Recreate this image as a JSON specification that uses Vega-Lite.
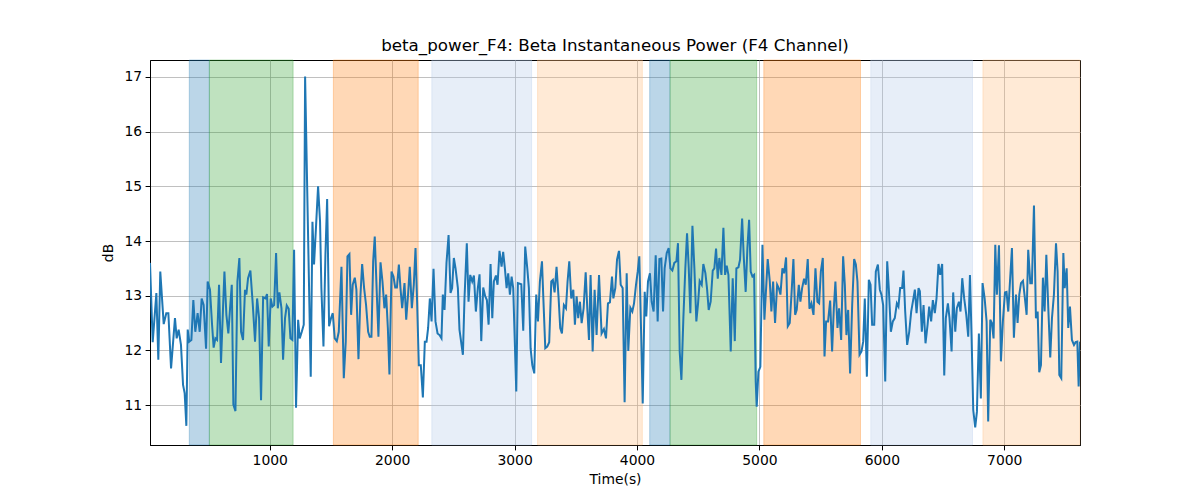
{
  "$schema": "https://vega.github.io/schema/vega-lite/v6.json",
  "width": 930,
  "height": 385,
  "autosize": {"type": "none"},
  "padding": {"left": 150, "top": 60, "right": 120, "bottom": 55},
  "background": "white",
  "title": {
    "text": "beta_power_F4: Beta Instantaneous Power (F4 Channel)",
    "font": "DejaVu Sans",
    "fontSize": 16.7,
    "fontWeight": "normal",
    "color": "black",
    "offset": 5
  },
  "config": {
    "view": {"stroke": "black", "strokeWidth": 1},
    "axis": {
      "labelFont": "DejaVu Sans",
      "labelFontSize": 13.9,
      "labelColor": "black",
      "titleFont": "DejaVu Sans",
      "titleFontSize": 13.9,
      "titleFontWeight": "normal",
      "titleColor": "black",
      "domainColor": "black",
      "tickColor": "black",
      "tickSize": 4.9,
      "labelPadding": 3.5,
      "gridColor": "#b0b0b0",
      "gridWidth": 0.8
    }
  },
  "datasets": {
    "regions": [
      {"start": 343, "end": 507, "phase": "blue"},
      {"start": 507, "end": 1191, "phase": "green"},
      {"start": 1520, "end": 2213, "phase": "orange"},
      {"start": 2324, "end": 3139, "phase": "lightblue"},
      {"start": 3188, "end": 4044, "phase": "lightorange"},
      {"start": 4104, "end": 4270, "phase": "blue"},
      {"start": 4270, "end": 4978, "phase": "green"},
      {"start": 5036, "end": 5826, "phase": "orange"},
      {"start": 5910, "end": 6741, "phase": "lightblue"},
      {"start": 6826, "end": 7619, "phase": "lightorange"}
    ],
    "power": [
      {"t":22,"v":13.60},{"t":44,"v":12.15},{"t":74,"v":13.05},{"t":90,"v":11.83},{"t":106,"v":13.44},{"t":134,"v":12.48},{"t":155,"v":12.68},{"t":172,"v":12.68},{"t":194,"v":11.67},{"t":226,"v":12.59},{"t":240,"v":12.22},{"t":256,"v":12.38},{"t":275,"v":12.10},{"t":292,"v":11.37},{"t":305,"v":11.22},{"t":319,"v":10.62},{"t":330,"v":12.38},{"t":343,"v":12.16},{"t":360,"v":12.19},{"t":376,"v":12.92},{"t":392,"v":12.34},{"t":411,"v":12.68},{"t":428,"v":12.34},{"t":444,"v":12.95},{"t":460,"v":12.83},{"t":480,"v":12.03},{"t":493,"v":13.26},{"t":512,"v":13.11},{"t":529,"v":12.47},{"t":542,"v":12.05},{"t":556,"v":12.22},{"t":570,"v":12.19},{"t":586,"v":13.20},{"t":602,"v":11.77},{"t":619,"v":12.80},{"t":630,"v":13.44},{"t":646,"v":12.65},{"t":662,"v":12.31},{"t":676,"v":12.77},{"t":690,"v":13.20},{"t":703,"v":11.01},{"t":720,"v":10.89},{"t":736,"v":13.26},{"t":752,"v":13.69},{"t":766,"v":12.34},{"t":782,"v":12.19},{"t":798,"v":13.11},{"t":809,"v":13.02},{"t":823,"v":13.32},{"t":842,"v":13.46},{"t":861,"v":12.86},{"t":880,"v":12.16},{"t":897,"v":12.95},{"t":913,"v":12.59},{"t":929,"v":11.09},{"t":946,"v":12.97},{"t":965,"v":12.95},{"t":978,"v":13.03},{"t":992,"v":12.07},{"t":1008,"v":12.95},{"t":1022,"v":12.80},{"t":1036,"v":12.83},{"t":1052,"v":13.78},{"t":1066,"v":12.77},{"t":1079,"v":13.06},{"t":1096,"v":12.77},{"t":1109,"v":11.83},{"t":1125,"v":12.59},{"t":1139,"v":12.82},{"t":1155,"v":12.76},{"t":1169,"v":12.22},{"t":1185,"v":12.19},{"t":1199,"v":13.84},{"t":1215,"v":10.95},{"t":1232,"v":12.56},{"t":1245,"v":12.22},{"t":1262,"v":12.34},{"t":1278,"v":12.47},
      {"t":1289,"v":17.01},{"t":1335,"v":11.52},{"t":1349,"v":14.35},{"t":1362,"v":13.57},{"t":1379,"v":14.30},{"t":1395,"v":15.0},{"t":1411,"v":14.36},{"t":1422,"v":13.14},{"t":1439,"v":12.07},{"t":1455,"v":13.75},{"t":1469,"v":14.77},{"t":1485,"v":12.44},{"t":1501,"v":12.59},{"t":1515,"v":12.68},{"t":1531,"v":12.22},{"t":1548,"v":12.17},{"t":1564,"v":12.34},{"t":1586,"v":13.53},{"t":1605,"v":11.49},{"t":1621,"v":12.16},{"t":1635,"v":13.72},{"t":1651,"v":13.76},{"t":1665,"v":12.65},{"t":1678,"v":13.20},{"t":1695,"v":13.33},{"t":1708,"v":13.11},{"t":1725,"v":11.84},{"t":1741,"v":13.00},{"t":1755,"v":13.58},{"t":1771,"v":13.14},{"t":1787,"v":12.83},{"t":1804,"v":12.34},{"t":1817,"v":12.25},{"t":1831,"v":12.25},{"t":1845,"v":13.63},{"t":1858,"v":14.08},{"t":1875,"v":13.02},{"t":1888,"v":12.25},{"t":1905,"v":13.61},{"t":1921,"v":13.26},{"t":1937,"v":12.77},{"t":1951,"v":13.02},{"t":1965,"v":12.41},{"t":1978,"v":11.56},{"t":1995,"v":13.44},{"t":2011,"v":13.35},{"t":2025,"v":13.15},{"t":2039,"v":13.15},{"t":2055,"v":13.57},{"t":2068,"v":13.14},{"t":2082,"v":12.77},{"t":2101,"v":13.23},{"t":2115,"v":12.56},{"t":2131,"v":13.05},{"t":2144,"v":13.53},{"t":2161,"v":12.77},{"t":2177,"v":13.20},{"t":2191,"v":13.87},{"t":2204,"v":12.89},{"t":2218,"v":11.73},{"t":2234,"v":11.73},{"t":2251,"v":11.14},{"t":2267,"v":12.16},{"t":2281,"v":12.16},{"t":2294,"v":12.41},{"t":2308,"v":12.95},{"t":2322,"v":12.53},{"t":2338,"v":13.49},{"t":2354,"v":12.53},{"t":2371,"v":12.31},{"t":2387,"v":12.28},{"t":2403,"v":12.22},{"t":2414,"v":13.02},{"t":2428,"v":12.74},{"t":2444,"v":13.60},{"t":2461,"v":14.11},{"t":2477,"v":13.05},{"t":2490,"v":13.14},{"t":2504,"v":13.69},{"t":2518,"v":13.50},{"t":2537,"v":13.14},{"t":2550,"v":12.38},
      {"t":2578,"v":11.92},{"t":2591,"v":12.95},{"t":2610,"v":13.96},{"t":2624,"v":12.89},{"t":2638,"v":13.38},{"t":2654,"v":13.26},{"t":2668,"v":13.37},{"t":2684,"v":12.71},{"t":2700,"v":13.14},{"t":2714,"v":13.39},{"t":2728,"v":12.17},{"t":2744,"v":13.15},{"t":2760,"v":12.99},{"t":2774,"v":12.92},{"t":2788,"v":12.47},{"t":2804,"v":13.58},{"t":2818,"v":12.59},{"t":2831,"v":13.26},{"t":2848,"v":13.37},{"t":2861,"v":13.20},{"t":2877,"v":13.82},{"t":2894,"v":13.53},{"t":2907,"v":13.80},{"t":2921,"v":13.50},{"t":2935,"v":13.14},{"t":2948,"v":13.41},{"t":2962,"v":13.02},{"t":2976,"v":13.35},{"t":2989,"v":13.14},{"t":3014,"v":11.25},{"t":3027,"v":13.23},{"t":3055,"v":13.21},{"t":3071,"v":12.36},{"t":3087,"v":13.90},{"t":3104,"v":13.50},{"t":3117,"v":13.14},{"t":3131,"v":12.04},{"t":3145,"v":11.73},{"t":3161,"v":11.58},{"t":3177,"v":13.02},{"t":3191,"v":12.53},{"t":3207,"v":13.26},{"t":3224,"v":13.63},{"t":3234,"v":13.02},{"t":3251,"v":12.04},{"t":3267,"v":12.07},{"t":3283,"v":12.15},{"t":3300,"v":13.26},{"t":3313,"v":13.29},{"t":3327,"v":13.06},{"t":3343,"v":13.53},{"t":3360,"v":12.95},{"t":3373,"v":12.41},{"t":3387,"v":12.31},{"t":3403,"v":12.83},{"t":3420,"v":12.77},{"t":3433,"v":13.26},{"t":3447,"v":13.63},{"t":3463,"v":12.95},{"t":3480,"v":13.11},{"t":3493,"v":12.47},{"t":3507,"v":12.99},{"t":3520,"v":12.59},{"t":3534,"v":12.89},{"t":3548,"v":12.50},{"t":3564,"v":12.77},{"t":3581,"v":13.43},{"t":3594,"v":12.77},{"t":3608,"v":12.19},{"t":3621,"v":13.38},{"t":3638,"v":11.98},{"t":3654,"v":13.11},{"t":3670,"v":12.28},{"t":3690,"v":13.38},{"t":3711,"v":12.31},{"t":3730,"v":12.39},{"t":3747,"v":12.22},{"t":3763,"v":12.86},{"t":3779,"v":12.88},{"t":3796,"v":13.35},
      {"t":3807,"v":12.95},{"t":3823,"v":13.14},{"t":3837,"v":13.66},{"t":3853,"v":13.82},{"t":3867,"v":13.20},{"t":3883,"v":13.14},{"t":3899,"v":11.05},{"t":3916,"v":13.41},{"t":3929,"v":11.99},{"t":3946,"v":12.78},{"t":3962,"v":12.71},{"t":3976,"v":12.86},{"t":3992,"v":13.20},{"t":4006,"v":13.44},{"t":4019,"v":13.72},{"t":4033,"v":12.41},{"t":4047,"v":11.03},{"t":4063,"v":13.07},{"t":4076,"v":12.62},{"t":4090,"v":13.26},{"t":4106,"v":13.41},{"t":4120,"v":12.89},{"t":4136,"v":12.71},{"t":4153,"v":13.74},{"t":4169,"v":12.53},{"t":4183,"v":13.67},{"t":4199,"v":13.68},{"t":4213,"v":12.71},{"t":4226,"v":13.50},{"t":4243,"v":13.78},{"t":4259,"v":13.87},{"t":4273,"v":13.50},{"t":4289,"v":13.46},{"t":4305,"v":13.60},{"t":4322,"v":13.63},{"t":4335,"v":13.96},{"t":4349,"v":11.98},{"t":4363,"v":11.46},{"t":4379,"v":12.59},{"t":4395,"v":13.50},{"t":4409,"v":14.14},{"t":4423,"v":13.50},{"t":4436,"v":12.68},{"t":4453,"v":14.28},{"t":4469,"v":13.50},{"t":4485,"v":12.53},{"t":4499,"v":12.86},{"t":4512,"v":13.27},{"t":4529,"v":13.20},{"t":4542,"v":13.58},{"t":4559,"v":13.41},{"t":4572,"v":13.14},{"t":4586,"v":12.74},{"t":4602,"v":12.89},{"t":4619,"v":13.46},{"t":4632,"v":13.50},{"t":4646,"v":13.86},{"t":4660,"v":13.31},{"t":4673,"v":13.69},{"t":4690,"v":13.38},{"t":4706,"v":14.24},{"t":4720,"v":13.38},{"t":4733,"v":13.55},{"t":4747,"v":13.38},{"t":4766,"v":11.98},{"t":4782,"v":13.32},{"t":4799,"v":12.17},{"t":4812,"v":13.50},{"t":4829,"v":13.52},{"t":4842,"v":13.66},{"t":4859,"v":14.41},{"t":4872,"v":13.72},{"t":4888,"v":13.07},{"t":4902,"v":13.87},{"t":4916,"v":14.39},{"t":4929,"v":13.44},{"t":4943,"v":13.35},{"t":4957,"v":13.38},{"t":4970,"v":11.43},{"t":4978,"v":10.97},{"t":4992,"v":11.61},{"t":5008,"v":11.70},{"t":5025,"v":13.93},{"t":5041,"v":12.56},
      {"t":5068,"v":13.67},{"t":5085,"v":13.26},{"t":5098,"v":12.71},{"t":5112,"v":13.26},{"t":5128,"v":12.50},{"t":5145,"v":13.20},{"t":5158,"v":13.14},{"t":5172,"v":13.02},{"t":5188,"v":13.50},{"t":5202,"v":13.41},{"t":5218,"v":13.70},{"t":5232,"v":12.44},{"t":5248,"v":12.50},{"t":5262,"v":13.02},{"t":5278,"v":13.67},{"t":5292,"v":12.65},{"t":5305,"v":12.74},{"t":5322,"v":13.20},{"t":5335,"v":12.89},{"t":5349,"v":13.14},{"t":5365,"v":13.31},{"t":5379,"v":13.20},{"t":5395,"v":13.67},{"t":5409,"v":12.76},{"t":5425,"v":12.86},{"t":5442,"v":12.65},{"t":5458,"v":13.50},{"t":5474,"v":12.89},{"t":5488,"v":12.86},{"t":5502,"v":13.44},{"t":5518,"v":13.69},{"t":5532,"v":11.89},{"t":5545,"v":12.53},{"t":5561,"v":12.53},{"t":5578,"v":12.91},{"t":5594,"v":11.98},{"t":5608,"v":12.77},{"t":5621,"v":13.26},{"t":5638,"v":12.41},{"t":5651,"v":12.77},{"t":5668,"v":12.19},{"t":5684,"v":13.72},{"t":5698,"v":13.20},{"t":5711,"v":12.28},{"t":5725,"v":12.74},{"t":5741,"v":11.58},{"t":5758,"v":12.83},{"t":5774,"v":13.67},{"t":5788,"v":13.57},{"t":5801,"v":13.26},{"t":5818,"v":11.92},{"t":5834,"v":11.98},{"t":5848,"v":12.16},{"t":5861,"v":12.95},{"t":5878,"v":11.52},{"t":5894,"v":13.29},{"t":5908,"v":13.20},{"t":5921,"v":12.47},{"t":5938,"v":12.47},{"t":5951,"v":13.44},{"t":5968,"v":13.57},{"t":5984,"v":13.11},{"t":5997,"v":13.02},{"t":6011,"v":12.83},{"t":6028,"v":11.43},{"t":6044,"v":13.63},{"t":6057,"v":13.14},{"t":6074,"v":12.34},{"t":6090,"v":12.53},{"t":6106,"v":12.59},{"t":6123,"v":12.86},{"t":6136,"v":12.80},{"t":6150,"v":13.14},{"t":6166,"v":13.14},{"t":6177,"v":13.46},{"t":6191,"v":12.71},{"t":6207,"v":12.10},{"t":6224,"v":12.34},{"t":6240,"v":12.71},{"t":6256,"v":12.92},{"t":6270,"v":13.11},{"t":6284,"v":12.68},{"t":6300,"v":13.14},
      {"t":6311,"v":13.08},{"t":6327,"v":12.34},{"t":6341,"v":12.83},{"t":6357,"v":12.13},{"t":6374,"v":12.47},{"t":6387,"v":12.80},{"t":6403,"v":12.53},{"t":6417,"v":12.92},{"t":6433,"v":12.68},{"t":6447,"v":12.95},{"t":6463,"v":13.58},{"t":6477,"v":13.38},{"t":6493,"v":13.58},{"t":6510,"v":11.54},{"t":6523,"v":12.59},{"t":6540,"v":12.86},{"t":6553,"v":12.59},{"t":6570,"v":11.98},{"t":6583,"v":13.06},{"t":6600,"v":12.34},{"t":6613,"v":12.77},{"t":6630,"v":12.89},{"t":6643,"v":12.71},{"t":6657,"v":13.32},{"t":6673,"v":12.95},{"t":6690,"v":12.65},{"t":6706,"v":12.25},{"t":6720,"v":13.38},{"t":6733,"v":12.28},{"t":6747,"v":10.91},{"t":6763,"v":10.59},{"t":6777,"v":10.88},{"t":6793,"v":12.31},{"t":6809,"v":11.12},{"t":6823,"v":13.23},{"t":6840,"v":12.95},{"t":6856,"v":12.53},{"t":6869,"v":10.70},{"t":6886,"v":12.56},{"t":6899,"v":12.50},{"t":6913,"v":12.22},{"t":6927,"v":13.93},{"t":6940,"v":13.02},{"t":6957,"v":13.92},{"t":6973,"v":11.80},{"t":6989,"v":12.53},{"t":7006,"v":13.06},{"t":7019,"v":13.07},{"t":7033,"v":12.71},{"t":7047,"v":13.26},{"t":7063,"v":13.87},{"t":7079,"v":12.23},{"t":7096,"v":13.02},{"t":7109,"v":12.50},{"t":7123,"v":13.02},{"t":7137,"v":13.23},{"t":7153,"v":13.27},{"t":7169,"v":12.95},{"t":7183,"v":12.65},{"t":7196,"v":13.84},{"t":7213,"v":13.23},{"t":7226,"v":13.23},{"t":7243,"v":14.65},{"t":7259,"v":12.59},{"t":7273,"v":12.71},{"t":7286,"v":11.60},{"t":7300,"v":11.73},{"t":7316,"v":13.33},{"t":7330,"v":12.71},{"t":7344,"v":13.75},{"t":7360,"v":12.77},{"t":7376,"v":11.87},{"t":7390,"v":12.59},{"t":7406,"v":13.02},{"t":7423,"v":13.96},{"t":7436,"v":13.44},{"t":7450,"v":11.55},{"t":7466,"v":11.49},{"t":7483,"v":13.78},{"t":7494,"v":13.14},{"t":7510,"v":13.50},{"t":7523,"v":12.41},{"t":7537,"v":12.80},{"t":7553,"v":12.19},{"t":7570,"v":12.10},{"t":7583,"v":12.15},{"t":7597,"v":12.16},{"t":7608,"v":11.34},{"t":7619,"v":12.16}
    ]
  },
  "layer": [
    {
      "data": {"name": "regions"},
      "mark": {"type": "rect", "fillOpacity": 0.3, "strokeOpacity": 0.3, "strokeWidth": 1},
      "encoding": {
        "x": {"field": "start", "type": "quantitative", "scale": {"domain": [22, 7619], "nice": false, "zero": false}},
        "x2": {"field": "end"},
        "fill": {"field": "phase", "type": "nominal", "legend": null,
          "scale": {"domain": ["blue", "green", "orange", "lightblue", "lightorange"],
                    "range": ["#1f77b4", "#2ca02c", "#ff7f0e", "#aec7e8", "#ffbb78"]}},
        "stroke": {"field": "phase", "type": "nominal", "legend": null,
          "scale": {"domain": ["blue", "green", "orange", "lightblue", "lightorange"],
                    "range": ["#1f77b4", "#2ca02c", "#ff7f0e", "#aec7e8", "#ffbb78"]}}
      }
    },
    {
      "data": {"name": "power"},
      "mark": {"type": "line", "color": "#1f77b4", "strokeWidth": 2, "clip": true},
      "encoding": {
        "x": {"field": "t", "type": "quantitative", "title": "Time(s)",
          "scale": {"domain": [22, 7619], "nice": false, "zero": false},
          "axis": {"values": [1000, 2000, 3000, 4000, 5000, 6000, 7000], "format": "d", "grid": true, "titlePadding": 5}},
        "y": {"field": "v", "type": "quantitative", "title": "dB",
          "scale": {"domain": [10.27, 17.31], "nice": false, "zero": false},
          "axis": {"values": [11, 12, 13, 14, 15, 16, 17], "format": "d", "grid": true, "titlePadding": 8}}
      }
    }
  ]
}
